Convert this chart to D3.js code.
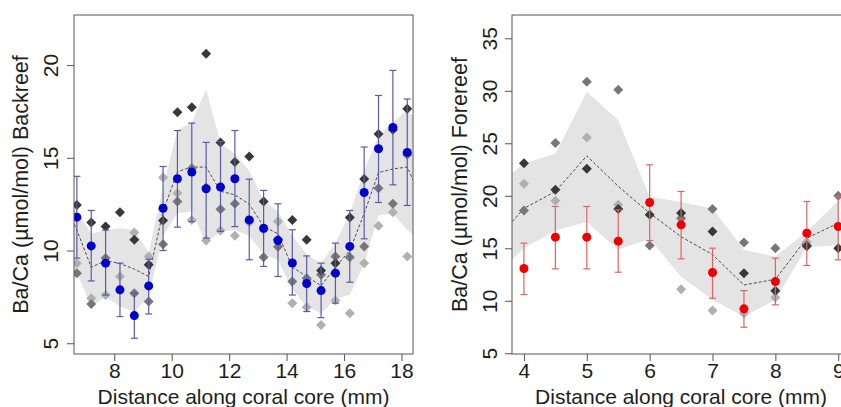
<!DOCTYPE html>
<html><head><meta charset="utf-8">
<script src="https://cdn.jsdelivr.net/npm/d3@7"></script>
<style>
body{margin:0;background:#fff;}
svg{display:block;font-family:"Liberation Sans",Arial,sans-serif;}
</style></head>
<body><svg id="chart" width="841" height="407"></svg>
<script>
// ---------------- Backreef (left) ----------------
const xBack = [6.7,7.2,7.7,8.2,8.7,9.2,9.7,10.2,10.7,11.2,11.7,12.2,12.7,13.2,13.7,14.2,14.7,15.2,15.7,16.2,16.7,17.2,17.7,18.2];
const blueMean = [11.80,10.25,9.32,7.88,6.49,8.09,12.28,13.87,14.23,13.33,13.42,13.87,11.65,11.20,10.54,9.33,8.22,7.84,8.78,10.22,13.13,15.49,16.64,15.29];
const blueHi = [14.0,12.16,11.1,9.32,7.70,9.53,14.53,16.47,16.87,15.83,15.88,16.47,13.85,13.24,12.52,11.12,9.71,9.32,10.4,12.16,15.58,18.36,19.71,18.17];
const blueLo = [9.59,8.36,7.6,6.44,5.27,6.58,10.0,11.26,11.56,10.67,11.03,11.29,9.5,9.14,8.6,7.6,6.71,6.38,7.16,8.29,10.63,12.59,13.54,12.43];
const backDark = [12.46,11.51,11.29,12.07,10.58,9.23,11.62,17.45,17.73,20.61,15.83,14.77,15.07,12.64,10.6,11.65,10.58,8.92,9.32,11.78,13.85,16.28,16.51,17.64];
const backMid = [8.78,7.12,9.59,null,7.7,7.25,10.34,12.64,14.44,13.4,12.23,12.52,11.6,9.64,10.2,8.33,8.5,8.69,9.68,9.64,10.22,13.36,12.52,15.16];
const backLight = [9.32,7.43,7.6,8.6,10.97,9.68,13.94,13.09,11.65,10.54,11.08,10.79,11.51,11.1,11.57,7.16,6.94,5.99,7.3,6.62,9.32,11.33,12.07,9.68];
const xBackBand = [6.2,6.7,7.2,7.7,8.2,8.7,9.2,9.7,10.2,10.7,11.2,11.7,12.2,12.7,13.2,13.7,14.2,14.7,15.2,15.7,16.2,16.7,17.2,17.7,18.2,18.7];
const backBandHi = [12.6,12.1,10.9,11.1,11.2,11.1,9.9,13.4,16.5,16.9,18.7,15.8,15.2,14.3,12.7,12.1,10.8,9.8,9.3,10.4,12.0,14.3,16.2,16.9,17.6,16.65];
const backBandLo = [8.0,8.8,7.0,7.5,7.0,6.7,7.5,10.8,12.0,12.1,10.4,11.0,11.1,10.8,9.8,9.5,7.9,7.0,6.6,7.4,7.6,9.3,11.9,12.0,11.1,10.5];
const backBandMean = [12.9,11.1,9.1,9.45,9.3,9.0,8.6,12.1,14.25,14.5,14.5,13.2,13.0,12.5,11.3,10.9,9.1,8.6,8.1,9.1,10.0,12.0,14.2,14.4,14.5,12.8];
const backXTicks = [8,10,12,14,16,18];
const backYTicks = [5,10,15,20];

// ---------------- Forereef (right) ----------------
const xFore = [4,4.5,5,5.5,6,6.5,7,7.5,8,8.5,9];
const redMean = [13.07,16.06,16.06,15.68,19.36,17.23,12.69,9.23,11.83,16.44,17.07];
const redHi = [15.49,18.98,18.98,18.66,22.95,20.41,15.01,10.97,14.06,19.46,19.93];
const redLo = [10.59,13.04,13.04,12.72,15.74,13.99,10.24,7.48,9.61,13.36,13.9];
const foreDark = [23.11,20.57,22.57,18.73,18.19,18.35,16.6,12.63,10.95,15.2,15.01];
const foreMid = [18.6,25.02,30.87,30.1,15.26,17.87,18.73,15.55,15.01,15.3,20.0];
const foreLight = [21.14,19.52,25.56,19.14,null,11.1,9.07,8.81,10.3,15.6,null];
const xForeBand = [3.5,4,4.5,5,5.5,6,6.5,7,7.5,8,8.5,9];
const foreBandHi = [20.5,23.1,24.0,29.9,27.2,19.9,19.4,18.8,14.85,14.2,16.6,19.5];
const foreBandLo = [12.1,15.0,16.7,17.5,14.85,15.9,12.3,10.1,8.5,10.1,15.1,15.3];
const foreBandMean = [15.4,18.8,20.4,23.8,20.9,18.35,16.1,14.4,11.5,12.05,15.96,17.4];
const foreXTicks = [4,5,6,7,8,9];
const foreYTicks = [5,10,15,20,25,30,35];

const svg = d3.select("#chart");
const FONT = 21;
const TXT = "#1e1e1e";
const AXC = "#555";

function panel(cfg){
  const {id, xr, yr, xd, yd} = cfg;
  const x = d3.scaleLinear().domain(xd).range(xr);
  const y = d3.scaleLinear().domain(yd).range(yr);
  const g = svg.append("g");
  g.append("clipPath").attr("id", id).append("rect")
    .attr("x", xr[0]).attr("y", yr[1]).attr("width", xr[1]-xr[0]).attr("height", yr[0]-yr[1]);
  const p = g.append("g").attr("clip-path", `url(#${id})`);

  // band
  const bandData = cfg.bandX.map((v,i)=>({x:v, hi:cfg.bandHi[i], lo:cfg.bandLo[i], m:cfg.bandMean[i]}));
  p.append("path").datum(bandData)
    .attr("d", d3.area().x(d=>x(d.x)).y0(d=>y(d.lo)).y1(d=>y(d.hi)))
    .attr("fill", "#e4e4e4");
  p.append("path").datum(bandData)
    .attr("d", d3.line().x(d=>x(d.x)).y(d=>y(d.m)))
    .attr("fill", "none").attr("stroke", "#3a3a3a").attr("stroke-width", 0.9).attr("stroke-dasharray", "3,2");

  // diamonds
  const sym = d3.symbol(d3.symbolSquare, 50);
  const series = [[cfg.light, "#b0b0b0"], [cfg.mid, "#777777"], [cfg.dark, "#383838"]];
  series.forEach(([vals, col])=>{
    p.selectAll(null).data(cfg.xs.map((v,i)=>({x:v, v:vals[i]})).filter(d=>d.v!=null))
      .enter().append("path")
      .attr("d", sym)
      .attr("transform", d=>`translate(${x(d.x)},${y(d.v)}) rotate(45)`)
      .attr("fill", col);
  });

  // error bars
  const eb = cfg.xs.map((v,i)=>({x:v, m:cfg.mean[i], hi:cfg.hi[i], lo:cfg.lo[i]}));
  const ebg = p.append("g").attr("stroke", cfg.errCol).attr("stroke-width", 1.2).attr("fill","none");
  eb.forEach(d=>{
    ebg.append("line").attr("x1", x(d.x)).attr("x2", x(d.x)).attr("y1", y(d.lo)).attr("y2", y(d.hi));
    ebg.append("line").attr("x1", x(d.x)-3.5).attr("x2", x(d.x)+3.5).attr("y1", y(d.lo)).attr("y2", y(d.lo));
    ebg.append("line").attr("x1", x(d.x)-3.5).attr("x2", x(d.x)+3.5).attr("y1", y(d.hi)).attr("y2", y(d.hi));
  });
  p.selectAll(null).data(eb).enter().append("circle")
    .attr("cx", d=>x(d.x)).attr("cy", d=>y(d.m)).attr("r", 4.5).attr("fill", cfg.ptCol);

  // box
  g.append("rect").attr("x", xr[0]).attr("y", yr[1]).attr("width", xr[1]-xr[0]).attr("height", yr[0]-yr[1])
    .attr("fill","none").attr("stroke", AXC).attr("stroke-width", 1);

  // axes
  const ax = g.append("g").attr("transform", `translate(0,${yr[0]})`)
    .call(d3.axisBottom(x).tickValues(cfg.xTicks).tickSize(7).tickFormat(d3.format("d")));
  ax.select(".domain").remove();
  ax.selectAll("line").attr("stroke", AXC);
  ax.selectAll("text").attr("y", 24).attr("dy", null).attr("font-size", FONT).attr("fill", TXT).attr("font-family", null);

  const ay = g.append("g").attr("transform", `translate(${xr[0]},0)`)
    .call(d3.axisLeft(y).tickValues(cfg.yTicks).tickSize(7).tickFormat(d3.format("d")));
  ay.select(".domain").remove();
  ay.selectAll("line").attr("stroke", AXC);
  ay.selectAll("text").attr("x", null).attr("dy", null)
    .attr("transform", `translate(${cfg.yLabOff},0) rotate(-90)`)
    .attr("text-anchor", "middle").attr("font-size", FONT).attr("fill", TXT).attr("font-family", null);

  g.append("text").attr("x", cfg.xTitleX).attr("y", 403.5).attr("text-anchor","middle")
    .attr("font-size", FONT).attr("fill", TXT).text("Distance along coral core (mm)");
  g.append("text").attr("transform", `translate(${cfg.yTitleX},${(yr[0]+yr[1])/2}) rotate(-90)`)
    .attr("text-anchor","middle").attr("font-size", 21.5).attr("fill", TXT).text(cfg.yTitle);
}

panel({id:"clipB", xr:[74,413], yr:[354,15], xd:[6.6,18.4], yd:[4.42,22.7],
  xs:xBack, mean:blueMean, hi:blueHi, lo:blueLo, dark:backDark, mid:backMid, light:backLight,
  bandX:xBackBand, bandHi:backBandHi, bandLo:backBandLo, bandMean:backBandMean,
  xTicks:backXTicks, yTicks:backYTicks, ptCol:"#0000cc", errCol:"#5a5aa8",
  yLabOff:-16, xTitleX:243.5, yTitleX:28, yTitle:"Ba/Ca (\u00b5mol/mol) Backreef"});

panel({id:"clipF", xr:[512,850], yr:[354,15], xd:[3.81,9.187], yd:[4.93,37.22],
  xs:xFore, mean:redMean, hi:redHi, lo:redLo, dark:foreDark, mid:foreMid, light:foreLight,
  bandX:xForeBand, bandHi:foreBandHi, bandLo:foreBandLo, bandMean:foreBandMean,
  xTicks:foreXTicks, yTicks:foreYTicks, ptCol:"#ee0000", errCol:"#e06464",
  yLabOff:-15, xTitleX:681, yTitleX:466.5, yTitle:"Ba/Ca (\u00b5mol/mol) Forereef"});
</script></body></html>
